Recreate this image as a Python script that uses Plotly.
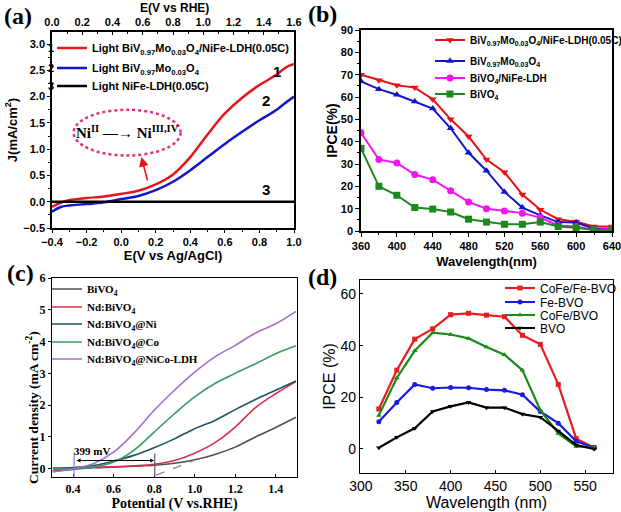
import plotly.graph_objects as go

W, H = 621, 512
def px(x): return x / W
def py(y): return 1 - y / H

A = "Arial, 'Liberation Sans', sans-serif"
AN = "'Liberation Sans Narrow', 'Arial Narrow', Arial, 'Liberation Sans', sans-serif"
T = "'Times New Roman', 'Liberation Serif', serif"

# ---------------- data (a) ----------------
a_x = [-0.4, -0.35, -0.3, -0.2, -0.1, 0.0, 0.1, 0.2, 0.3, 0.4, 0.5, 0.6, 0.7, 0.8, 0.9, 0.95, 1.0]
a_red = [-0.10, -0.02, 0.03, 0.07, 0.10, 0.15, 0.21, 0.33, 0.52, 0.85, 1.28, 1.68, 1.98, 2.22, 2.42, 2.55, 2.62]
a_blue = [-0.19, -0.10, -0.07, -0.045, -0.01, 0.05, 0.11, 0.22, 0.38, 0.60, 0.85, 1.10, 1.33, 1.55, 1.75, 1.88, 2.00]
a_black = [0.0, 0.0, 0.0, 0.0, 0.0, 0.0, 0.0, 0.0, 0.0, 0.0, 0.0, 0.0, 0.0, 0.0, 0.0, 0.0, 0.0]
a_rhe = [0.0, 1.6]
a_names = ["Light BiV<sub>0.97</sub>Mo<sub>0.03</sub>O<sub>4</sub>/NiFe-LDH(0.05C)",
           "Light BiV<sub>0.97</sub>Mo<sub>0.03</sub>O<sub>4</sub>",
           "Light NiFe-LDH(0.05C)"]

# ---------------- data (b) ----------------
b_x = [360, 380, 400, 420, 440, 460, 480, 500, 520, 540, 560, 580, 600, 620, 640]
b_red = [70, 67.5, 65.3, 64.2, 59, 50, 42.3, 32, 26.3, 16.3, 9.5, 5.3, 4.2, 2, 2]
b_blue = [67, 63.5, 61, 58, 54.8, 46, 35, 27, 17.5, 10.5, 7, 4, 3.8, 1, 1]
b_mag = [44, 32, 30.5, 25.3, 23, 18, 13, 10, 9, 8, 6, 2.5, 2, 0.5, 1]
b_green = [37, 20, 16, 10.5, 9.8, 8.5, 5.3, 4, 3, 3, 4, 2, 1.5, 0.5, 0.5]
b_names = ["BiV<sub>0.97</sub>Mo<sub>0.03</sub>O<sub>4</sub>/NiFe-LDH(0.05C)",
           "BiV<sub>0.97</sub>Mo<sub>0.03</sub>O<sub>4</sub>",
           "BiVO<sub>4</sub>/NiFe-LDH",
           "BiVO<sub>4</sub>"]

# ---------------- data (c) ----------------
c_x = [0.3, 0.4, 0.5, 0.6, 0.7, 0.8, 0.9, 1.0, 1.1, 1.2, 1.3, 1.4, 1.5]
c_bvo = [-0.08, -0.02, 0.03, 0.05, 0.08, 0.11, 0.17, 0.28, 0.45, 0.68, 1.0, 1.3, 1.62]
c_nd = [-0.05, 0.02, 0.04, 0.06, 0.09, 0.14, 0.26, 0.49, 0.82, 1.31, 1.92, 2.36, 2.74]
c_ni = [0.02, 0.04, 0.10, 0.24, 0.42, 0.66, 0.94, 1.26, 1.52, 1.86, 2.18, 2.47, 2.76]
c_co = [0.0, 0.0, 0.05, 0.21, 0.58, 1.15, 1.73, 2.26, 2.68, 3.0, 3.3, 3.62, 3.87]
c_nico = [-0.1, 0.0, 0.16, 0.52, 1.12, 1.84, 2.47, 3.04, 3.52, 3.88, 4.27, 4.56, 4.95]
c_names = ["BiVO<sub>4</sub>", "Nd:BiVO<sub>4</sub>", "Nd:BiVO<sub>4</sub>@Ni",
           "Nd:BiVO<sub>4</sub>@Co", "Nd:BiVO<sub>4</sub>@NiCo-LDH"]

# ---------------- data (d) ----------------
d_x = [320, 340, 360, 380, 400, 420, 440, 460, 480, 500, 520, 540, 560]
d_cofefe = [15.5, 30.5, 42.5, 46.5, 52, 52.5, 51.8, 51.2, 44, 40.5, 25, 4, 0.5]
d_fe = [10.5, 18, 25, 23.5, 23.8, 23.7, 23, 22.7, 21, 14.5, 10, 3, 0.5]
d_cofe = [13, 27.5, 38, 45, 44.3, 42.8, 39.5, 36.5, 30.5, 15, 6, 1, 0.5]
d_bvo = [0.5, 4.5, 8, 14.5, 16.5, 18, 16, 16, 13.5, 12.3, 7, 1.5, 0]
d_names = ["CoFe/Fe-BVO", "Fe-BVO", "CoFe/BVO", "BVO"]

fig = go.Figure()

legends = {}
def leg(key, x, y, font, anchor="left"):
    legends[key] = dict(x=px(x), y=py(y), xanchor=anchor, yanchor="middle",
                        bgcolor="rgba(0,0,0,0)", borderwidth=0, font=font,
                        itemwidth=30, tracegroupgap=0)

fa = dict(family=AN, size=11, color="black", weight="bold")
# (a)
a_cols = ["#e8141c", "#1414c8", "#000000"]
a_rows = [48, 68, 86]
for i, (ys, nm) in enumerate(zip([a_red, a_blue, a_black], a_names)):
    k = "legend" if i == 0 else f"legend{i+1}"
    fig.add_trace(go.Scatter(x=a_x, y=ys, mode="lines", name=nm,
                             line=dict(color=a_cols[i], width=2.5, shape="spline"),
                             xaxis="x", yaxis="y", legend=k))
    leg(k, 52, a_rows[i], fa)
# invisible trace to carry the RHE top axis
fig.add_trace(go.Scatter(x=a_rhe, y=[None, None], mode="lines", showlegend=False,
                         hoverinfo="skip", xaxis="x5", yaxis="y"))

# (b)
b_cols = ["#e81010", "#1515c8", "#f014f0", "#1a8a1a"]
b_sym = ["triangle-down", "triangle-up", "circle", "square"]
b_rows = [40, 61, 78, 94]
fb = dict(family=AN, size=10, color="black", weight="bold")
for i, (ys, nm) in enumerate(zip([b_red, b_blue, b_mag, b_green], b_names)):
    k = f"legend{4+i}"
    fig.add_trace(go.Scatter(x=b_x, y=ys, mode="lines+markers", name=nm,
                             line=dict(color=b_cols[i], width=2),
                             marker=dict(symbol=b_sym[i], size=7, color=b_cols[i]),
                             xaxis="x2", yaxis="y2", legend=k))
    leg(k, 430, b_rows[i], fb)

# (c)
c_cols = ["#505050", "#d8304f", "#1d5560", "#3a9a62", "#a070cc"]
c_rows = [289, 307, 324, 342, 359]
fc = dict(family=T, size=11, color="black", weight="bold")
for i, (ys, nm) in enumerate(zip([c_bvo, c_nd, c_ni, c_co, c_nico], c_names)):
    k = f"legend{8+i}"
    fig.add_trace(go.Scatter(x=c_x, y=ys, mode="lines", name=nm,
                             line=dict(color=c_cols[i], width=1.6, shape="spline"),
                             xaxis="x3", yaxis="y3", legend=k))
    leg(k, 47, c_rows[i], fc)

# (d)
d_cols = ["#e81c1c", "#1a1ae0", "#1a8a1a", "#000000"]
d_sym = ["square", "circle", "triangle-up", "triangle-down"]
d_rows = [288, 302, 315, 328]
fd = dict(family=A, size=12, color="black")
for i, (ys, nm) in enumerate(zip([d_cofefe, d_fe, d_cofe, d_bvo], d_names)):
    k = f"legend{13+i}"
    fig.add_trace(go.Scatter(x=d_x, y=ys, mode="lines+markers", name=nm,
                             line=dict(color=d_cols[i], width=2.2),
                             marker=dict(symbol=d_sym[i], size=5, color=d_cols[i]),
                             xaxis="x4", yaxis="y4", legend=k))
    leg(k, 500, d_rows[i], fd)


def ax(**kw):
    base = dict(showline=True, linecolor="black", linewidth=1.5, ticks="outside",
                ticklen=4, tickwidth=1.3, tickcolor="black", showgrid=False,
                zeroline=False, mirror=True, automargin=False, ticklabeloverflow="allow")
    base.update(kw)
    return base

tfa = dict(family=A, size=11, color="black", weight="bold")
tta = dict(family=A, size=13, color="black", weight="bold")
minor_a = dict(ticks="outside", ticklen=2, tickcolor="black", tickwidth=1)
minor_in = dict(ticks="inside", ticklen=2, tickcolor="black", tickwidth=1)

layout = dict(
    width=W, height=H, margin=dict(l=0, r=0, t=0, b=0, autoexpand=False),
    paper_bgcolor="white", plot_bgcolor="white", showlegend=True,
    # (a)
    xaxis=ax(domain=[px(52), px(294)], anchor="y", range=[-0.4, 1.0], dtick=0.2, tick0=-0.4,
             tickformat=".1f", tickfont=tfa, mirror=False, ticklen=3,
             minor=dict(minor_a, dtick=0.1),
             title=dict(text="E(V vs Ag/AgCl)", font=tta, standoff=3)),
    yaxis=ax(domain=[py(228), py(32)], anchor="x", range=[-0.5, 3.23], dtick=0.5, tick0=0,
             tickformat=".1f", tickfont=tfa, ticklen=3, minor=dict(minor_a, dtick=0.25),
             title=dict(text="J(mA/cm<sup>2</sup>)", font=tta, standoff=3)),
    xaxis5=ax(overlaying="x", side="top", anchor="y", range=[0, 1.6], dtick=0.2, tick0=0,
              tickformat=".1f", tickfont=tfa, mirror=False, ticks="inside", ticklen=3,
              minor=dict(minor_in, dtick=0.1)),
    # (b)
    xaxis2=ax(domain=[px(361), px(612)], anchor="y2", range=[360, 640], dtick=40, tick0=360,
              tickfont=tfa, minor=dict(minor_a, dtick=20),
              title=dict(text="Wavelength(nm)", font=tta, standoff=6)),
    yaxis2=ax(domain=[py(231), py(30)], anchor="x2", range=[0, 90], dtick=10, tick0=0,
              tickfont=tfa, minor=dict(minor_a, dtick=5),
              title=dict(text="IPCE(%)", font=dict(tta, size=14), standoff=0)),
    # (c)
    xaxis3=ax(domain=[px(52), px(297)], anchor="y3", range=[0.296, 1.505], dtick=0.2, tick0=0.4,
              tickformat=".1f", ticks="inside", ticklen=3, linewidth=1.2,
              tickfont=dict(family=T, size=12, color="black", weight="bold"),
              title=dict(text="Potential (V vs.RHE)", font=dict(family=T, size=14, color="black", weight="bold"), standoff=8)),
    yaxis3=ax(domain=[py(477), py(278)], anchor="x3", range=[-0.26, 6], dtick=1, tick0=0,
              ticklen=3, linewidth=1.2,
              tickfont=dict(family=T, size=12, color="black", weight="bold")),
    # (d)
    xaxis4=ax(domain=[px(360), px(613)], anchor="y4", range=[299, 581], dtick=50, tick0=300,
              ticks="inside", ticklen=3, linewidth=1.3,
              tickfont=dict(family=A, size=14, color="black"),
              title=dict(text="Wavelength (nm)", font=dict(family=A, size=16, color="black"), standoff=0)),
    yaxis4=ax(domain=[py(473), py(280)], anchor="x4", range=[-9.3, 65.4], tickvals=[0, 20, 40, 60],
              ticks="inside", ticklen=3, linewidth=1.3,
              tickfont=dict(family=A, size=14, color="black"),
              title=dict(text="IPCE (%)", font=dict(family=A, size=16, color="black"), standoff=0)),
)
layout.update(legends)
fig.update_layout(**layout)

def pann(text, x, y, font, angle=0):
    return dict(text=text, x=px(x), y=py(y), xref="paper", yref="paper", showarrow=False,
                xanchor="center", yanchor="middle", font=font, textangle=angle)

ann = []
for lab, x, y in [("(a)", 18, 16), ("(b)", 322, 14), ("(c)", 20, 273), ("(d)", 322, 277)]:
    ann.append(pann(f"<b>{lab}</b>", x, y, dict(family=T, size=24, color="black")))
for n, y in zip(["1", "2", "3"], a_rows):
    ann.append(pann(n, 51, y, dict(family=A, size=11, color="black", weight="bold")))
# top axis title of (a)
ann.append(pann("E(V vs RHE)", 174, 8, dict(family=A, size=12, color="black", weight="bold")))
# y title of (c)
ann.append(pann("Current density (mA cm<sup>-2</sup>)", 32, 408,
                dict(family=T, size=13.5, color="black", weight="bold"), angle=-90))
for n, x, y in [("1", 0.9, 2.48), ("2", 0.84, 1.93), ("3", 0.84, 0.23)]:
    ann.append(dict(text=n, x=x, y=y, xref="x", yref="y", showarrow=False,
                    font=dict(family=A, size=15, color="black", weight="bold")))
ann.append(dict(text="Ni<sup>II</sup> \u2014\u2192 Ni<sup>III,IV</sup>", x=0.036, y=1.32, xref="x", yref="y",
                showarrow=False, font=dict(family=T, size=15, color="black", weight="bold")))
ann.append(dict(text="", x=0.117, y=0.85, ax=0.155, ay=0.375, xref="x", yref="y",
                axref="x", ayref="y", showarrow=True, arrowhead=2, arrowsize=1.2,
                arrowwidth=1.6, arrowcolor="#e8141c"))
ann.append(dict(text="<b>399 mV</b>", x=0.495, y=0.55, xref="x3", yref="y3", showarrow=False,
                font=dict(family=T, size=11, color="black")))
ann.append(dict(text="", x=0.8, y=0.26, ax=0.41, ay=0.26, xref="x3", yref="y3", axref="x3",
                ayref="y3", showarrow=True, arrowhead=2, arrowside="end+start", arrowsize=0.8,
                arrowwidth=1, arrowcolor="black"))
fig.update_layout(annotations=ann)

shapes = [
    dict(type="circle", xref="x", yref="y", x0=-0.275, x1=0.344, y0=0.88, y1=1.75,
         line=dict(color="#e0307a", width=2.5, dash="dot")),
    dict(type="line", xref="x3", yref="y3", x0=0.405, x1=0.405, y0=-0.26, y1=0.52,
         line=dict(color="#a070cc", width=1.2)),
    dict(type="line", xref="x3", yref="y3", x0=0.803, x1=0.803, y0=-0.26, y1=0.48,
         line=dict(color="#505a80", width=1.2)),
    dict(type="line", xref="x3", yref="y3", x0=0.81, x1=1.0, y0=-0.2, y1=0.27,
         line=dict(color="#888888", width=1.2, dash="dash")),
]
fig.update_layout(shapes=shapes)

fig.write_html("out.html", config={"displayModeBar": False},
               post_script="document.body.style.margin='0';document.body.style.overflow='hidden';")
